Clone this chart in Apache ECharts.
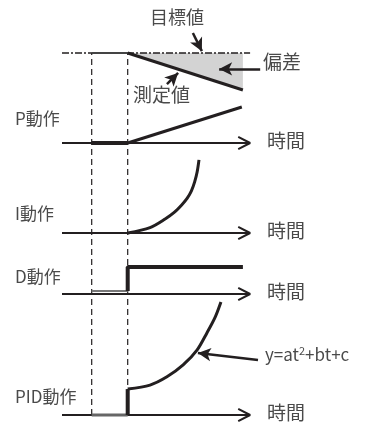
<!DOCTYPE html>
<html>
<head>
<meta charset="utf-8">
<script src="https://cdn.jsdelivr.net/npm/echarts@6/dist/echarts.min.js"></script>
<style>
  html, body { margin: 0; padding: 0; background: #fff; }
  #main { width: 378px; height: 424px; }
</style>
</head>
<body>
<div id="main"></div>
<script>
// time unit: 0 = first dashed guide, 1 = step time (second guide)
let guideTimes = [0, 1];
let axisStart = -0.825;
let axisEnd = 4.4;

// target / measured value
let measuredFlat = [[0, 1], [1, 1]];
let measuredDrop = [[1, 1], [4.2, 0]];
let deviationArea = [[1, 1], [4.2, 1], [4.2, 0]];

// P action
let pFlat = [[0, 0], [1, 0]];
let pRamp = [[1, 0], [4.17, 1]];

// I action
let iCurve = [[1, 0], [1.62, 0.15], [2.04, 0.39], [2.3, 0.58], [2.5, 0.78], [2.65, 0.96], [2.77, 1.17], [2.86, 1.42], [2.93, 1.7], [2.98, 2.03]];

// D action
let dBefore = [[0, 0.08], [1, 0.08]];
let dStep = [[1, 0.08], [1, 0.75], [4.2, 0.75]];

// PID action
let pidBefore = [[0, 0], [1, 0]];
let pidStep = [[1, 0], [1, 0.72]];
let pidCurve = [[1, 0.72], [1.62, 0.83], [2.09, 1.06], [2.54, 1.39], [2.93, 1.81], [3.2, 2.28], [3.43, 2.72], [3.59, 3.14]];

let panelNames = ["P動作", "I動作", "D動作", "PID動作"];
let timeLabel = "時間";

let ink = "#231f20";
let textColor = "#4a4a4a";
let font = "'Noto Sans CJK JP', 'Noto Sans', sans-serif";

// panel layout: baseline pixel, scale (px per unit), y range
let panels = [
  { base: 90, scale: 37, lo: -1, hi: 2.2 },
  { base: 143, scale: 36, lo: -0.5, hi: 1.5 },
  { base: 233, scale: 36, lo: -0.5, hi: 2.3 },
  { base: 294, scale: 36, lo: -0.5, hi: 1 },
  { base: 415, scale: 36, lo: -0.25, hi: 3.3 },
  { base: 415, scale: 362, lo: 0, hi: 1 }
];

let grids = [];
let xAxes = [];
let yAxes = [];
panels.forEach(p => {
  grids.push({ left: 0, right: 0, top: p.base - p.hi * p.scale, height: (p.hi - p.lo) * p.scale });
  xAxes.push({ type: "value", gridIndex: grids.length - 1, min: -91.7 / 36, max: (378 - 91.7) / 36, show: false });
  yAxes.push({ type: "value", gridIndex: grids.length - 1, min: p.lo, max: p.hi, show: false });
});

let series = [];
function line(idx, data, style, extra) {
  series.push(Object.assign({
    type: "line",
    xAxisIndex: idx,
    yAxisIndex: idx,
    data: data,
    symbol: "none",
    silent: true,
    animation: false,
    clip: false,
    z: 3,
    lineStyle: Object.assign({ color: ink, width: 2 }, style)
  }, extra || {}));
}
function arrows(pairs) {
  return {
    symbol: ["none", "arrow"],
    symbolSize: [10, 13],
    silent: true,
    animation: false,
    label: { show: false },
    lineStyle: { color: ink, width: 2.5, type: "solid" },
    data: pairs.map(p => [{ coord: p[0] }, { coord: p[1] }])
  };
}

// deviation fill
series.push({
  type: "custom",
  xAxisIndex: 0,
  yAxisIndex: 0,
  data: [0],
  silent: true,
  z: 1,
  renderItem: function (params, api) {
    return {
      type: "polygon",
      shape: { points: deviationArea.map(p => api.coord(p)) },
      style: { fill: "#d3d3d3" }
    };
  }
});

// time axes with open arrow heads
for (let k = 1; k <= 4; k++) {
  line(k, [[axisStart, 0], [axisEnd, 0]], { width: 2 });
  line(k, [[axisEnd - 0.33, 0.17], [axisEnd, 0], [axisEnd - 0.33, -0.17]], { width: 2 });
}

// dashed guides
guideTimes.forEach(t => line(5, [[t, 0], [t, 1]], { width: 1.2, type: [6, 4] }));

// target value
line(0, [[axisStart, 1], [axisEnd, 1]], { width: 1.5, type: [7, 2, 2, 2] });
line(0, measuredFlat, { width: 2, color: "#444" });
line(0, measuredDrop, { width: 3 }, {
  markLine: arrows([
    [[2.81, 1.54], [3.06, 1.05]],
    [[2.09, 0.16], [2.4, 0.46]],
    [[4.68, 0.57], [3.54, 0.57]]
  ])
});

// P
line(1, pFlat, { width: 4 });
line(1, pRamp, { width: 3 });
// I
line(2, iCurve, { width: 3 }, { smooth: 0.3 });
// D
line(3, dBefore, { width: 2, color: "#777" });
line(3, dStep, { width: 4 });
// PID
line(4, pidBefore, { width: 3, color: "#666" });
line(4, pidStep, { width: 4 });
line(4, pidCurve, { width: 3 }, { smooth: 0.3, markLine: arrows([[[4.62, 1.53], [2.95, 1.72]]]) });

// texts
let graphics = [];
function text(str, x, y, size) {
  graphics.push({
    type: "text", left: x, top: y - size * 0.7, silent: true, z: 10,
    style: { text: str, font: size + "px " + font, fill: textColor }
  });
}
let bases = [143, 233, 294, 415];
let nameOffsets = [21, 16, 14, 15];
panelNames.forEach((n, i) => {
  text(n, 15, bases[i] - nameOffsets[i], 17);
  text(timeLabel, 267, bases[i] + 2, 19);
});
text("目標値", 150, 21, 18);
text("測定値", 133, 99, 19);
text("偏差", 263, 66, 19);
graphics.push({
  type: "text", left: 265, top: 345, silent: true, z: 10,
  style: {
    text: "y=at{s|2}+bt+c", font: "17px " + font, fill: textColor,
    rich: { s: { fontSize: 11, fontFamily: font, fill: textColor, padding: [0, 0, 9, 0] } }
  }
});

let chart = echarts.init(document.getElementById("main"));
chart.setOption({
  animation: false,
  grid: grids,
  xAxis: xAxes,
  yAxis: yAxes,
  series: series,
  graphic: graphics
});
</script>
</body>
</html>
